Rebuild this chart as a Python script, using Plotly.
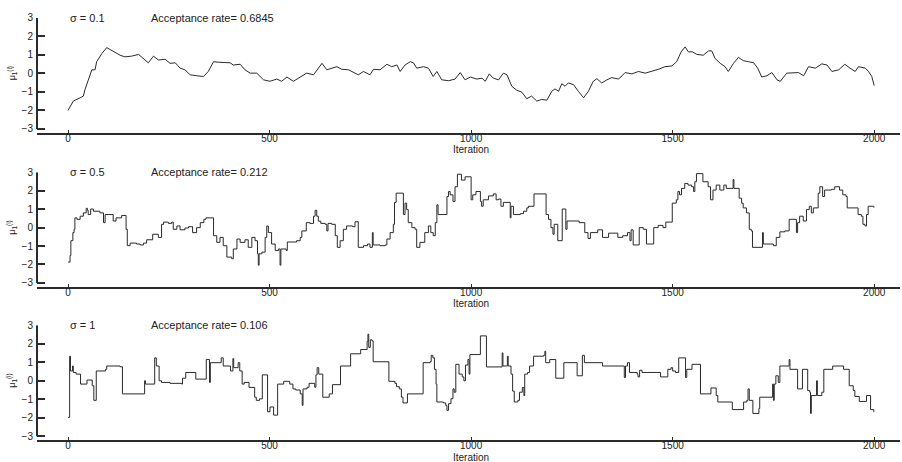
import plotly.graph_objects as go

# ---------------- data ----------------
sigmas = ["0.1", "0.5", "1"]
acceptance = ["0.6845", "0.212", "0.106"]
x_ticks = [0, 500, 1000, 1500, 2000]
y_ticks = [-3, -2, -1, 0, 1, 2, 3]

# sigma = 0.1 (sampled points of the trace)
iter_1 = [0, 13, 30, 38, 42, 50, 59, 67, 71, 84, 96, 104, 117, 129, 141, 158, 175, 187, 199, 212,
          224, 241, 253, 266, 278, 290, 303, 319, 336, 348, 361, 373, 390, 402, 410, 427, 439, 452,
          468, 485, 501, 518, 530, 543, 559, 571, 592, 609, 630, 642, 654, 667, 679, 696, 720, 733,
          749, 758, 774, 791, 803, 816, 824, 836, 849, 857, 865, 882, 894, 906, 915, 927, 944, 960,
          973, 985, 998, 1014, 1027, 1035, 1045, 1055, 1068, 1080, 1089, 1101, 1113, 1126, 1138,
          1150, 1163, 1175, 1188, 1200, 1208, 1217, 1225, 1233, 1241, 1254, 1266, 1279, 1291, 1303,
          1312, 1324, 1337, 1349, 1366, 1382, 1399, 1415, 1432, 1448, 1465, 1481, 1498, 1510, 1521,
          1531, 1539, 1549, 1560, 1576, 1589, 1597, 1605, 1618, 1630, 1638, 1651, 1663, 1676, 1688,
          1701, 1711, 1721, 1734, 1746, 1759, 1767, 1783, 1800, 1812, 1825, 1837, 1854, 1870, 1883,
          1895, 1912, 1927, 1940, 1953, 1961, 1978, 1986, 1994, 2000]
mu_1 = [-2.0, -1.5, -1.32, -1.23, -0.88, -0.43, 0.19, 0.19, 0.63, 1.07, 1.39, 1.29, 1.13, 0.98, 0.89,
        0.93, 1.02, 0.81, 0.57, 0.93, 0.72, 0.76, 0.54, 0.57, 0.28, 0.19, -0.08, -0.13, -0.17, 0.10,
        0.63, 0.60, 0.57, 0.57, 0.45, 0.49, 0.19, 0.01, 0.01, -0.35, -0.43, -0.31, -0.43, -0.20,
        -0.43, -0.26, 0.01, -0.08, 0.54, 0.19, 0.28, 0.36, 0.22, 0.19, -0.08, 0.10, -0.08, 0.22,
        0.19, 0.49, 0.36, 0.45, 0.10, 0.45, 0.63, 0.57, 0.28, 0.36, 0.28, -0.17, 0.10, -0.35, -0.40,
        -0.31, 0.04, -0.35, -0.20, -0.31, -0.26, -0.43, -0.03, -0.26, -0.35, 0.01, -0.08, -0.70,
        -0.91, -1.02, -1.37, -1.23, -1.50, -1.41, -1.45, -0.97, -0.84, -0.97, -0.56, -0.70, -0.52,
        -0.61, -0.97, -1.32, -0.97, -0.43, -0.29, -0.52, -0.35, -0.23, -0.31, 0.04, -0.03, 0.10,
        0.01, 0.10, 0.22, 0.36, 0.40, 0.63, 1.16, 1.43, 1.16, 1.16, 1.02, 0.98, 1.21, 1.21, 0.81,
        0.54, 0.36, 0.10, 0.54, 0.86, 0.68, 0.63, 0.57, 0.28, -0.20, -0.13, 0.04, -0.35, -0.43,
        0.01, 0.01, 0.04, -0.13, 0.36, 0.28, 0.51, 0.45, 0.10, 0.19, 0.49, 0.28, 0.10, 0.36, 0.28,
        0.10, -0.17, -0.66]

# sigma = 0.5 (step starts of the trace)
iter_2 = [0, 5, 7, 12, 15, 17, 22, 30, 38, 45, 48, 50, 56, 63, 79, 88, 92, 112, 119, 133, 144, 147,
          154, 170, 179, 187, 195, 210, 224, 232, 237, 249, 257, 261, 270, 278, 290, 299, 309, 319,
          328, 337, 342, 361, 369, 377, 385, 394, 406, 410, 419, 427, 439, 447, 456, 464, 470, 472,
          474, 481, 489, 493, 497, 505, 514, 522, 526, 528, 541, 544, 567, 576, 580, 591, 600, 609,
          613, 617, 621, 627, 638, 642, 645, 654, 663, 668, 675, 683, 691, 706, 712, 720, 733, 743,
          749, 755, 757, 774, 787, 791, 799, 807, 810, 814, 832, 836, 840, 844, 853, 861, 865, 873,
          885, 894, 900, 906, 911, 915, 918, 940, 944, 948, 955, 960, 966, 976, 985, 1000, 1004,
          1012, 1023, 1026, 1030, 1043, 1055, 1062, 1068, 1074, 1080, 1097, 1099, 1105, 1122, 1130,
          1138, 1142, 1156, 1186, 1192, 1198, 1203, 1206, 1215, 1226, 1235, 1238, 1268, 1282, 1290,
          1296, 1314, 1326, 1341, 1364, 1376, 1388, 1394, 1397, 1402, 1417, 1427, 1435, 1453, 1464,
          1476, 1483, 1499, 1509, 1513, 1517, 1522, 1530, 1538, 1547, 1552, 1555, 1559, 1575, 1588,
          1594, 1600, 1608, 1617, 1627, 1633, 1650, 1652, 1665, 1671, 1675, 1683, 1690, 1695, 1698,
          1723, 1725, 1750, 1757, 1766, 1778, 1789, 1807, 1810, 1815, 1824, 1832, 1839, 1844, 1849,
          1861, 1865, 1872, 1877, 1894, 1902, 1914, 1922, 1930, 1933, 1960, 1968, 1972, 1977, 1981,
          1985, 1999, 2000]
mu_2 = [-1.87, -1.51, -0.71, -0.27, -0.09, 0.53, 0.45, 0.62, 0.80, 1.05, 0.94, 0.71, 1.01, 0.89,
        0.80, 0.27, 0.71, 0.36, 0.53, 0.66, -0.09, -0.98, -0.84, -0.89, -0.94, -0.84, -0.66, -0.36,
        -0.53, 0.18, 0.30, 0.23, 0.30, -0.09, 0.09, -0.12, -0.02, 0.05, -0.27, 0.00, 0.27, 0.45,
        0.53, -0.44, -0.80, -0.53, -0.98, -1.60, -1.69, -1.16, -0.62, -0.80, -0.66, -1.07, -0.53,
        -0.71, -1.42, -2.04, -1.42, -1.33, -0.53, 0.09, -0.27, -0.89, -1.24, -1.16, -2.04, -1.16,
        -1.24, -0.78, -0.71, -0.53, -0.18, 0.27, 0.23, 0.62, 0.94, 0.62, 0.35, 0.23, 0.18, -0.18,
        0.23, 0.18, -0.44, -1.07, -0.71, -0.09, 0.09, 0.05, 0.32, -1.07, -0.98, -0.89, -1.07, -0.27,
        -0.94, -0.98, -0.94, -0.62, -0.27, 0.18, 1.37, 1.87, 0.71, 1.33, 0.98, 0.27, 0.00, -0.09,
        -1.07, -0.80, -0.27, 0.09, -0.27, -0.44, 0.27, 1.24, 0.71, 1.69, 1.96, 1.78, 1.42, 2.22,
        2.90, 2.58, 2.76, 1.51, 1.78, 1.96, 1.42, 1.16, 1.51, 1.72, 1.83, 1.51, 1.55, 1.16, 1.37,
        0.53, 1.16, 0.71, 0.76, 0.89, 1.07, 1.16, 1.83, 0.71, 0.45, 0.00, -0.36, 0.18, -0.71, 1.01,
        -0.09, 0.36, 0.27, -0.27, -0.59, -0.27, -0.12, -0.53, -0.30, -0.53, -0.44, -0.27, -0.71,
        -0.12, -0.94, 0.00, -0.09, -0.89, 0.00, 0.12, 0.00, 0.30, 1.33, 1.51, 1.96, 1.78, 2.13,
        2.40, 2.31, 2.22, 1.96, 2.49, 2.93, 2.49, 2.22, 1.51, 2.04, 2.31, 2.04, 2.31, 2.13, 2.61,
        2.13, 1.60, 1.33, 1.07, 0.80, -0.09, -0.18, -1.07, -0.27, -0.89, -0.98, -0.53, -0.23,
        -0.18, 0.45, -0.27, 0.27, 0.62, 0.36, 0.98, 1.16, 0.80, 1.07, 1.87, 2.22, 1.69, 2.04, 2.08,
        2.22, 2.04, 1.78, 1.69, 1.07, 0.71, 0.62, 0.18, 0.09, 0.71, 1.16, 1.10, 1.10]

# sigma = 1 (step starts of the trace)
iter_3 = [0, 4, 6, 11, 13, 20, 31, 47, 60, 64, 70, 93, 96, 129, 135, 190, 192, 215, 219, 226, 232,
          253, 282, 284, 292, 317, 343, 351, 353, 380, 385, 403, 409, 411, 422, 426, 432, 437, 449,
          463, 467, 475, 482, 495, 501, 510, 520, 535, 550, 558, 565, 576, 581, 583, 593, 598, 612,
          615, 618, 622, 632, 648, 656, 676, 701, 726, 742, 744, 746, 750, 754, 757, 796, 811, 815,
          822, 827, 831, 842, 881, 898, 901, 905, 909, 913, 915, 931, 937, 940, 944, 950, 955, 958,
          962, 970, 978, 982, 986, 992, 995, 997, 1023, 1038, 1077, 1079, 1090, 1092, 1099, 1103,
          1107, 1116, 1120, 1127, 1131, 1133, 1140, 1145, 1155, 1180, 1183, 1185, 1195, 1210, 1230,
          1263, 1276, 1281, 1326, 1380, 1383, 1388, 1393, 1412, 1414, 1418, 1424, 1470, 1488, 1496,
          1500, 1507, 1515, 1532, 1535, 1548, 1569, 1595, 1608, 1612, 1648, 1676, 1684, 1687, 1690,
          1699, 1714, 1716, 1748, 1750, 1752, 1756, 1762, 1766, 1789, 1791, 1810, 1822, 1835, 1840,
          1842, 1844, 1857, 1859, 1870, 1875, 1897, 1924, 1938, 1948, 1952, 1963, 1981, 1991, 1999,
          2000]
mu_3 = [-1.98, 1.33, 0.53, 0.80, 0.45, 0.36, -0.18, 0.04, -0.27, -1.06, 0.53, 0.62, 0.80, 0.76,
        -0.71, 0.00, -0.18, 1.24, 0.80, 0.00, -0.09, -0.14, -0.18, 0.14, 0.45, 0.09, 1.15, -0.09,
        0.98, 1.24, 0.80, 0.53, 1.20, 0.71, 0.98, 0.53, -0.18, -0.09, -0.36, -0.89, -1.06, -0.98,
        0.32, -1.68, -1.42, -1.86, -0.18, -0.03, -0.18, -0.44, -0.50, -0.71, -1.33, -0.44, -0.35,
        -0.14, -0.35, 0.32, 0.71, 0.36, -0.89, -0.71, -0.21, 0.80, 1.46, 1.69, 2.13, 2.52, 1.81,
        2.22, 2.16, 1.03, -0.03, -0.14, -0.32, -0.44, -0.89, -1.20, -0.71, 0.98, 1.03, 1.38, 1.24,
        0.62, -0.18, -1.15, -1.20, -1.33, -1.60, -1.24, -0.97, -0.44, -0.62, 0.89, 0.36, 0.21, 0.00,
        0.85, 1.15, 0.36, 1.42, 2.43, 0.75, 1.51, 0.80, 1.33, 0.80, 0.36, -0.56, -1.15, -1.06,
        -0.62, -0.36, -0.80, 0.36, 0.45, 0.80, 1.33, 1.38, 1.60, 0.98, 1.15, 0.14, 0.98, 0.27, 1.38,
        0.98, 0.80, 0.18, 0.80, 0.98, 0.45, 0.36, 0.21, 0.57, 0.45, 0.21, 0.62, 0.71, 0.53, 0.45,
        1.24, 0.18, 0.62, 0.89, -0.71, -0.39, -0.80, -1.15, -1.56, -1.15, -1.06, -0.44, -1.06,
        -1.77, -1.50, -0.89, -0.18, -1.06, -0.18, 0.27, -0.09, 0.80, 1.15, 0.62, -0.44, 0.62,
        -0.53, -0.62, -1.77, -0.80, 0.00, -0.80, -0.62, 0.62, 0.80, 0.62, -0.27, -0.53, -0.85,
        -1.12, -0.80, -1.56, -1.68, -1.68]

series = [(iter_1, mu_1, "linear"), (iter_2, mu_2, "hv"), (iter_3, mu_3, "hv")]

# ---------------- layout helpers ----------------
W, H = 902, 462
FONT = "Liberation Sans, Arial, Helvetica, sans-serif"
AX = "#2b2b2b"
TXT = "#222"
# window pixel rows: (value 3 top, axis-line bottom)
panel_px = [(12, 129), (169.3, 285.7), (325, 441.7)]
x_dom = [37 / W, 900 / W]
x_rng = [-77, 2064]

fig = go.Figure()
layout = dict(width=W, height=H, margin=dict(l=0, r=0, t=0, b=0), autosize=False,
              paper_bgcolor="white", plot_bgcolor="white", showlegend=False,
              font=dict(family=FONT, size=10, color=TXT))
shapes = []
annotations = []

for i, ((xs, ys, shape), (top, bot)) in enumerate(zip(series, panel_px)):
    k = "" if i == 0 else str(i + 1)
    xa, ya = "x" + k, "y" + k
    fig.add_trace(go.Scatter(x=xs, y=ys, mode="lines", xaxis=xa, yaxis=ya,
                             line=dict(color="#2a2a2a", width=1, shape=shape),
                             hoverinfo="skip"))
    layout["xaxis" + k] = dict(domain=x_dom, range=x_rng, anchor=ya, tickvals=x_ticks,
                               ticks="inside", ticklen=3, tickwidth=1, tickcolor=AX,
                               showline=True, linecolor=AX, linewidth=2, showgrid=False,
                               zeroline=False, ticklabelstandoff=-5,
                               tickfont=dict(size=10, family=FONT, color=TXT))
    layout["yaxis" + k] = dict(domain=[1 - bot / H, 1 - top / H], range=[-3.21, 3.0],
                               anchor=xa, tickvals=y_ticks, ticks="inside", ticklen=8,
                               tickwidth=1.5, tickcolor=AX, showline=False, showgrid=False,
                               zeroline=False, ticklabelstandoff=3,
                               tickfont=dict(size=10, family=FONT, color=TXT))
    shapes.append(dict(type="line", xref=xa + " domain", yref=ya, x0=0, x1=0, y0=-3, y1=3,
                       line=dict(color=AX, width=2)))
    annotations += [
        dict(xref=xa, yref=ya, x=0, y=3, text="σ = " + sigmas[i], showarrow=False,
             xanchor="left", yanchor="middle", font=dict(size=11, family=FONT, color=TXT)),
        dict(xref=xa, yref=ya, x=201, y=3, text="Acceptance rate= " + acceptance[i],
             showarrow=False, xanchor="left", yanchor="middle",
             font=dict(size=11, family=FONT, color=TXT)),
        dict(xref=xa, yref=ya + " domain", x=1000, y=-17.5 / (bot - top), text="Iteration",
             showarrow=False, xanchor="center", yanchor="middle",
             font=dict(size=10, family=FONT, color=TXT)),
        dict(xref="paper", yref=ya, x=12 / W, y=0, text="μ<sub>1</sub><sup>(i)</sup>",
             showarrow=False, textangle=-90, xanchor="center", yanchor="middle",
             font=dict(size=9, family=FONT, color=TXT)),
    ]

layout["shapes"] = shapes
layout["annotations"] = annotations
fig.update_layout(**layout)
fig.write_html("out.html", config={"displayModeBar": False},
               post_script="document.body.style.margin='0';document.body.style.overflow='hidden';")
